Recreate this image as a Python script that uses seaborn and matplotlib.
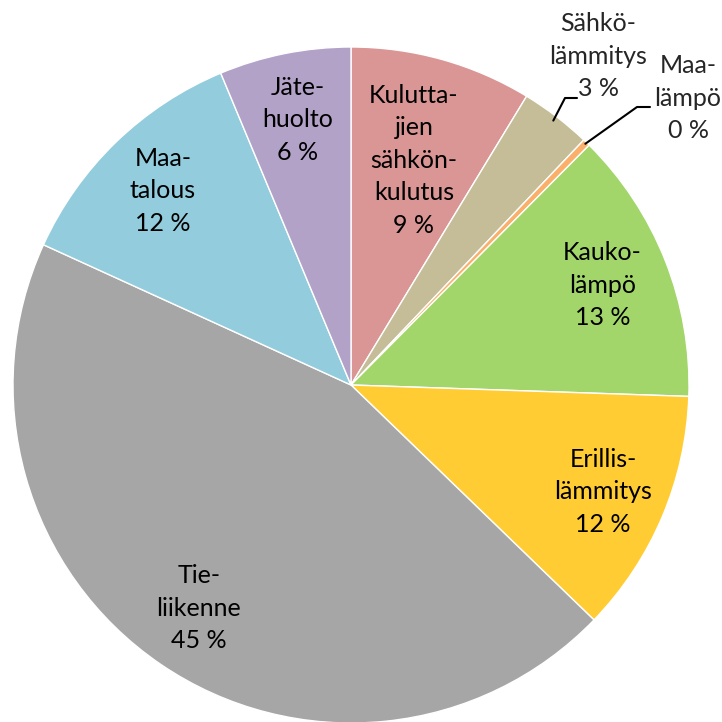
import numpy as np
import matplotlib
matplotlib.use("Agg")
import matplotlib.pyplot as plt
import seaborn as sns

sns.set_theme(style="white")
plt.rcParams['font.family'] = ['Lato', 'DejaVu Sans']

names = ["Kulutta-\njien\nsähkön-\nkulutus", "Sähkö-\nlämmitys", "Maa-\nlämpö",
         "Kauko-\nlämpö", "Erillis-\nlämmitys", "Tie-\nliikenne", "Maa-\ntalous", "Jäte-\nhuolto"]
values = [8.7, 3.4, 0.35, 13.1, 11.7, 44.6, 11.9, 6.3]
colors = ["#D99694", "#C4BD97", "#FAB06A", "#A2D66A", "#FFCD33", "#A6A6A6", "#93CDDD", "#B2A2C8"]
# radial placement of in-slice labels (fraction of radius); None = outside label
label_r = [0.69, None, None, 0.80, 0.81, 0.80, 0.80, 0.80]

R_PX = 338.0
W = H = 722
cx, cy = 351.0, 385.0

fig = plt.figure(figsize=(7.22, 7.22), dpi=100)
ax = fig.add_axes([0, 0, 1, 1])
wedges, _ = ax.pie(values, colors=colors, startangle=90, counterclock=False,
                   radius=1.0, wedgeprops=dict(edgecolor="white", linewidth=1.0))
ax.set_xlim(-cx / R_PX, (W - cx) / R_PX)
ax.set_ylim(-(H - cy) / R_PX, cy / R_PX)
ax.set_aspect("equal")
ax.axis("off")

FS = 18
LS = 1.5
for w, name, v, r in zip(wedges, names, values, label_r):
    txt = f"{name}\n{v:.0f} %"
    mid = np.deg2rad((w.theta1 + w.theta2) / 2)
    if r is not None:
        ax.text(r * np.cos(mid), r * np.sin(mid), txt, ha="center", va="center",
                fontsize=FS, linespacing=LS, color="black")

# outside labels with leader lines
def px(x, y):
    return ((x - cx) / R_PX, (cy - y) / R_PX)

w = wedges[1]
mid = np.deg2rad((w.theta1 + w.theta2) / 2)
start = (np.cos(mid) * 0.985, np.sin(mid) * 0.985)
bend = px(565, 98)
end = px(577, 98)
ax.plot([start[0], bend[0], end[0]], [start[1], bend[1], end[1]], color="black", lw=1.5)
ax.text(*px(598, 56), f"{names[1]}\n{values[1]:.0f} %", ha="center", va="center",
        fontsize=FS, linespacing=LS)

w = wedges[2]
mid = np.deg2rad((w.theta1 + w.theta2) / 2)
start = (np.cos(mid) * 0.995, np.sin(mid) * 0.995)
bend = px(637, 107)
end = px(650, 107)
ax.plot([start[0], bend[0], end[0]], [start[1], bend[1], end[1]], color="black", lw=1.5)
ax.text(*px(688, 98), f"{names[2]}\n{values[2]:.0f} %", ha="center", va="center",
        fontsize=FS, linespacing=LS)

fig.savefig("out.png", dpi=100, facecolor="white")
